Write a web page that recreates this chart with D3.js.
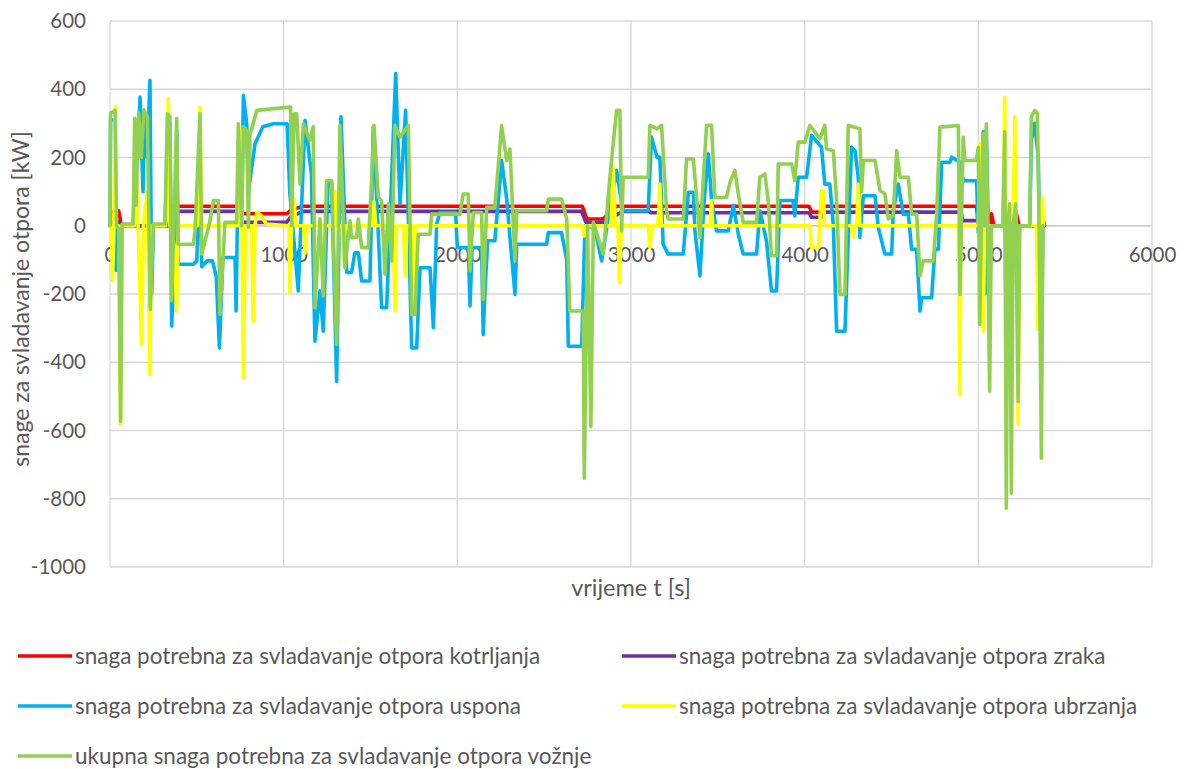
<!DOCTYPE html>
<html>
<head>
<meta charset="utf-8">
<script src="https://cdn.jsdelivr.net/npm/d3@7"></script>
<style>
    body { margin: 0; background: #fff; }
    text { font-family: Lato, "Open Sans", sans-serif; fill: #595959; }
</style>
</head>
<body>
<div class="chart"></div>
<script>
// [vrijeme t (s), snaga (kW)]
const kotrljanje = [[0,0],[5,40],[50,44],[62,10],[70,0],[340,0],[355,57],[750,57],[765,35],[1017,35],[1040,45],[1110,57],[2720,57],[2745,20],[2840,20],[2917,57],[4025,57],[4040,40],[4095,40],[4110,57],[4990,57],[5000,0],[5065,0],[5075,35],[5090,0],[5200,0],[5215,44],[5235,0],[5365,0],[5375,15],[5380,0]];

const zrak = [[0,0],[5,10],[50,12],[62,5],[70,0],[340,0],[355,42],[750,42],[765,10],[1017,10],[1040,25],[1110,42],[2715,42],[2740,10],[2840,10],[2955,42],[3099,42],[3118,38],[4025,38],[4040,25],[4095,25],[4110,40],[4900,40],[4910,15],[5005,15],[5015,0],[5380,0]];

const uspon = [[0,0],[3,310],[28,310],[32,-130],[45,-130],[55,0],[134,0],[145,250],[160,200],[173,377],[190,100],[200,330],[215,200],[230,426],[240,-200],[250,0],[317,0],[330,250],[345,300],[355,-294],[368,-150],[384,280],[393,-113],[480,-113],[500,-103],[518,200],[528,-120],[560,-103],[590,-103],[612,-150],[630,-358],[650,-93],[720,-93],[726,-250],[740,250],[758,0],[768,382],[787,300],[797,100],[835,240],[880,290],[940,299],[1020,299],[1035,100],[1084,-191],[1123,309],[1160,150],[1180,-338],[1209,-191],[1228,-309],[1256,132],[1276,132],[1305,-456],[1330,319],[1363,-137],[1391,-137],[1410,-79],[1430,-79],[1449,-162],[1497,-162],[1516,289],[1545,-25],[1564,-240],[1593,-240],[1645,446],[1670,64],[1702,338],[1737,-358],[1766,-358],[1785,-123],[1843,-123],[1862,-299],[1881,5],[1900,39],[1990,39],[2000,-64],[2063,-64],[2073,-235],[2085,-64],[2140,-64],[2149,-319],[2160,-181],[2175,-44],[2216,-44],[2255,191],[2284,80],[2303,-34],[2332,-201],[2342,-54],[2514,-54],[2524,-20],[2600,-20],[2630,-100],[2639,-353],[2716,-353],[2735,0],[2790,-5],[2831,-103],[2880,60],[2917,162],[2936,100],[2955,44],[3099,44],[3118,260],[3150,201],[3166,201],[3185,-54],[3214,-83],[3301,-83],[3330,98],[3359,98],[3368,-15],[3397,-147],[3420,64],[3445,211],[3464,74],[3493,-15],[3560,-15],[3589,59],[3618,-25],[3646,-83],[3723,-83],[3742,44],[3780,-44],[3809,-191],[3838,-191],[3857,74],[3934,74],[3943,29],[3963,142],[4011,142],[4040,265],[4097,230],[4116,122],[4145,122],[4165,0],[4184,-309],[4232,-309],[4251,-34],[4270,230],[4290,220],[4309,140],[4318,-34],[4338,88],[4405,88],[4424,-5],[4462,-83],[4501,-83],[4510,44],[4539,122],[4568,34],[4597,34],[4616,-69],[4645,-69],[4664,-250],[4674,-211],[4731,-211],[4750,-69],[4770,-69],[4789,186],[4837,186],[4847,201],[4894,186],[4913,132],[4990,132],[5000,-20],[5028,275],[5040,-200],[5046,280],[5065,-200],[5075,0],[5142,0],[5152,250],[5161,-456],[5170,0],[5190,-400],[5200,0],[5229,-100],[5238,0],[5296,0],[5305,250],[5325,300],[5345,200],[5363,-350],[5372,0]];

const ubrzanje = [[0,0],[8,-20],[15,-160],[22,-20],[30,350],[36,0],[50,0],[61,-583],[70,0],[140,0],[150,200],[165,-50],[182,-348],[192,0],[215,100],[230,-436],[240,0],[320,0],[336,372],[345,0],[370,-60],[384,-250],[393,0],[505,0],[518,348],[528,0],[740,0],[755,280],[768,-446],[780,0],[815,0],[825,-280],[835,0],[845,40],[870,30],[900,5],[1030,0],[1036,-195],[1046,0],[1060,80],[1070,0],[1115,0],[1123,-80],[1135,0],[1285,0],[1295,100],[1305,0],[1335,0],[1345,-100],[1355,0],[1510,0],[1520,70],[1530,0],[1630,0],[1641,-250],[1650,0],[1690,0],[1700,-147],[1710,0],[1745,0],[1752,-260],[1760,0],[2720,0],[2730,-30],[2740,0],[2885,0],[2898,172],[2910,0],[2925,0],[2933,-167],[2945,0],[3100,0],[3109,-64],[3120,0],[3155,0],[3166,122],[3175,0],[3455,0],[3464,74],[3470,0],[4030,0],[4040,-64],[4080,-64],[4097,103],[4107,103],[4115,0],[4270,0],[4280,-34],[4290,0],[4300,0],[4309,122],[4318,0],[4885,0],[4894,-495],[4900,0],[5000,0],[5009,240],[5018,0],[5028,-309],[5036,0],[5142,0],[5152,377],[5161,-200],[5170,0],[5200,0],[5210,319],[5229,-583],[5238,0],[5335,0],[5344,-304],[5358,0],[5369,83],[5375,0]];

const ukupno = [[0,0],[3,330],[30,338],[38,0],[50,-10],[61,-573],[70,5],[134,5],[142,315],[150,60],[165,330],[180,200],[195,340],[215,320],[232,-245],[250,5],[317,5],[330,328],[345,320],[355,-220],[368,0],[384,314],[393,-54],[480,-54],[490,-15],[518,328],[528,-83],[572,5],[596,74],[624,74],[633,-260],[662,10],[729,10],[739,299],[758,0],[768,290],[787,280],[797,-5],[806,265],[845,338],[1040,348],[1046,0],[1060,328],[1075,328],[1094,122],[1113,299],[1151,250],[1170,290],[1180,-240],[1209,20],[1228,-206],[1247,132],[1276,132],[1305,-348],[1324,294],[1353,-123],[1382,15],[1391,-34],[1420,-34],[1430,20],[1449,-64],[1487,-64],[1506,132],[1520,294],[1545,83],[1564,74],[1583,-142],[1603,64],[1622,-103],[1641,294],[1670,260],[1718,294],[1737,-260],[1756,-260],[1775,-25],[1843,-25],[1852,34],[1920,34],[2015,34],[2034,93],[2063,93],[2073,-132],[2092,39],[2140,39],[2149,-216],[2169,54],[2216,54],[2240,200],[2255,294],[2284,191],[2303,225],[2332,-103],[2342,44],[2514,44],[2524,78],[2600,78],[2630,20],[2648,-250],[2725,-250],[2731,-740],[2750,0],[2769,-588],[2783,10],[2840,-83],[2880,150],[2917,338],[2936,338],[2946,-15],[2955,142],[3099,142],[3109,294],[3150,284],[3176,294],[3205,44],[3214,20],[3301,20],[3320,196],[3359,196],[3378,83],[3397,-34],[3416,132],[3435,294],[3464,294],[3483,83],[3550,83],[3570,127],[3598,162],[3618,93],[3646,10],[3723,10],[3742,142],[3771,152],[3790,74],[3809,-88],[3838,-88],[3848,181],[3925,181],[3943,132],[3963,245],[4001,245],[4030,294],[4088,255],[4116,294],[4126,225],[4165,220],[4184,74],[4203,-201],[4232,-201],[4251,294],[4318,284],[4328,100],[4338,191],[4405,191],[4434,103],[4462,93],[4482,20],[4510,30],[4530,220],[4549,142],[4597,142],[4616,34],[4645,34],[4664,-147],[4683,-103],[4741,-103],[4760,34],[4779,289],[4885,294],[4894,-201],[4913,260],[4923,191],[4989,191],[5000,230],[5008,-289],[5027,270],[5036,0],[5046,299],[5065,-485],[5075,0],[5142,0],[5152,275],[5161,-828],[5170,0],[5180,64],[5190,-784],[5200,0],[5215,64],[5229,-515],[5238,0],[5296,0],[5305,319],[5325,338],[5340,330],[5350,0],[5363,-681],[5372,0]];

const seriesNames = [
    'snaga potrebna za svladavanje otpora kotrljanja',
    'snaga potrebna za svladavanje otpora zraka',
    'snaga potrebna za svladavanje otpora uspona',
    'snaga potrebna za svladavanje otpora ubrzanja',
    'ukupna snaga potrebna za svladavanje otpora vožnje'
];
const seriesColors = ['#FF0000', '#7030A0', '#00B0F0', '#FFFF00', '#92D050'];
const seriesData = [kotrljanje, zrak, uspon, ubrzanje, ukupno];

const xTicks = [0, 1000, 2000, 3000, 4000, 5000, 6000];
const yTicks = [-1000, -800, -600, -400, -200, 0, 200, 400, 600];

const width = 1184, height = 769;
const plot = { left: 110, right: 1152, top: 21, bottom: 567 };

const svg = d3.select('.chart').append('svg')
    .attr('width', width)
    .attr('height', height);

const x = d3.scaleLinear().domain([0, 6000]).range([plot.left, plot.right]);
const y = d3.scaleLinear().domain([-1000, 600]).range([plot.bottom, plot.top]);

// grid
svg.append('g').selectAll('line').data(yTicks).join('line')
    .attr('x1', plot.left).attr('x2', plot.right)
    .attr('y1', d => y(d)).attr('y2', d => y(d))
    .attr('stroke', '#d9d9d9').attr('stroke-width', 1.3);
svg.append('g').selectAll('line').data(xTicks).join('line')
    .attr('x1', d => x(d)).attr('x2', d => x(d))
    .attr('y1', plot.top).attr('y2', plot.bottom)
    .attr('stroke', '#d9d9d9').attr('stroke-width', 1.3);

// axes (labels only)
const xAxis = svg.append('g')
    .attr('transform', `translate(0,${y(0)})`)
    .call(d3.axisBottom(x).tickValues(xTicks).tickFormat(d => String(d)).tickSize(0).tickPadding(22));
const yAxis = svg.append('g')
    .attr('transform', `translate(${plot.left},0)`)
    .call(d3.axisLeft(y).tickValues(yTicks).tickFormat(d => String(d)).tickSize(0).tickPadding(24));
[xAxis, yAxis].forEach(a => {
    a.select('.domain').remove();
    a.selectAll('text').attr('font-family', 'Lato, sans-serif').attr('font-size', 20.5).attr('fill', '#595959');
});

// zero line
svg.append('line')
    .attr('x1', plot.left).attr('x2', plot.right)
    .attr('y1', y(0)).attr('y2', y(0))
    .attr('stroke', '#c8c8c8').attr('stroke-width', 1.3);

// series
const line = d3.line().x(d => x(d[0])).y(d => y(d[1]));
svg.append('g').selectAll('path').data(seriesData).join('path')
    .attr('d', line)
    .attr('fill', 'none')
    .attr('stroke', (d, i) => seriesColors[i])
    .attr('stroke-width', 3.6)
    .attr('stroke-linejoin', 'round')
    .attr('stroke-linecap', 'round');

// axis titles
svg.append('text')
    .attr('x', 631).attr('y', 596)
    .attr('text-anchor', 'middle').attr('font-size', 23.5)
    .text('vrijeme t [s]');
svg.append('text')
    .attr('transform', `translate(29,299) rotate(-90)`)
    .attr('text-anchor', 'middle').attr('font-size', 23)
    .text('snage za svladavanje otpora [kW]');

// legend
const legend = svg.append('g').selectAll('g').data(seriesNames).join('g')
    .attr('transform', (d, i) => `translate(${i % 2 ? 622 : 18},${656 + Math.floor(i / 2) * 50})`);
legend.append('line')
    .attr('x1', 0).attr('x2', 54)
    .attr('stroke', (d, i) => seriesColors[i])
    .attr('stroke-width', 3.6);
legend.append('text')
    .attr('x', 57).attr('dy', '0.35em')
    .attr('font-size', 22.5)
    .text(d => d);
</script>
</body>
</html>
